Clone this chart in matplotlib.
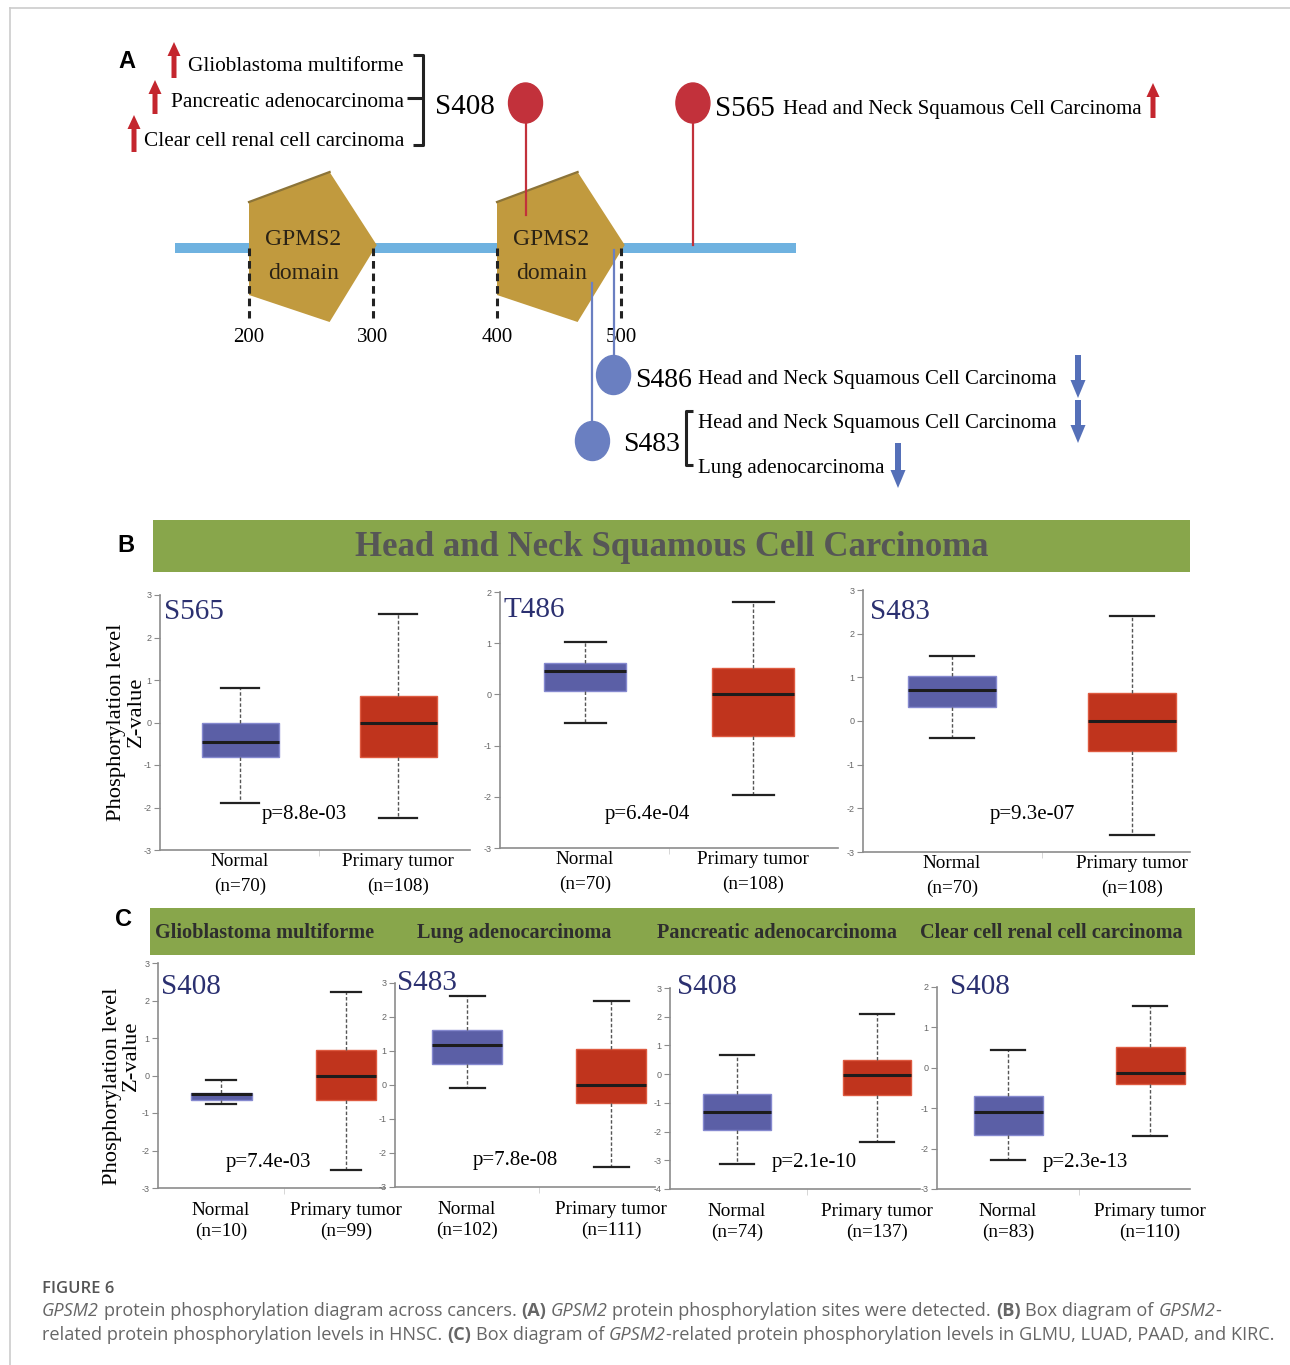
import matplotlib
matplotlib.use("Agg")
import matplotlib.pyplot as plt
from matplotlib.patches import Polygon, Ellipse, Rectangle, FancyArrow

plt.rcParams["axes.unicode_minus"] = False

W, H = 1290, 1365
SERIF = "Liberation Serif"
SANS = "Liberation Sans"
CAP_FONT = "Open Sans"

BLUE, BLUE_EDGE = "#5b5fa6", "#8589cf"
RED, RED_EDGE = "#c0341d", "#de5a40"
GREEN = "#88a64b"
NAVY = "#2b3070"
LOLLI_RED, LOLLI_BLUE = "#c2313b", "#6a7fc1"
ARROW_RED, ARROW_BLUE = "#c4262e", "#5570b8"

# ---------------- panel A data ----------------
protein_span = (140, 641)
domain_ranges = [(200, 300), (400, 500)]
domain_label = ["GPMS2", "domain"]
axis_ticks = [200, 300, 400, 500]
up_sites = ["S408", "S565"]
up_site_pos = [423, 558]
down_sites = ["S486", "S483"]
down_site_pos = [494, 477]
s408_cancers = ["Glioblastoma multiforme", "Pancreatic adenocarcinoma", "Clear cell renal cell carcinoma"]
s565_cancers = ["Head and Neck Squamous Cell Carcinoma"]
s486_cancers = ["Head and Neck Squamous Cell Carcinoma"]
s483_cancers = ["Head and Neck Squamous Cell Carcinoma", "Lung adenocarcinoma"]

# ---------------- panel B data ----------------
b_title = "Head and Neck Squamous Cell Carcinoma"
b_sites = ["S565", "T486", "S483"]
b_pvals = ["p=8.8e-03", "p=6.4e-04", "p=9.3e-07"]
b_n_normal = [70, 70, 70]
b_n_tumor = [108, 108, 108]
# whislo, q1, median, q3, whishi
b_normal = [(-1.90, -0.82, -0.45, 0.00, 0.82),
            (-0.55, 0.07, 0.46, 0.61, 1.03),
            (-0.40, 0.31, 0.70, 1.02, 1.50)]
b_tumor = [(-2.25, -0.82, 0.00, 0.62, 2.55),
           (-1.97, -0.81, 0.00, 0.52, 1.80),
           (-2.61, -0.68, 0.00, 0.63, 2.41)]
b_ylims = [(-3, 3), (-3, 2), (-3, 3)]

# ---------------- panel C data ----------------
c_cancers = ["Glioblastoma multiforme", "Lung adenocarcinoma",
             "Pancreatic adenocarcinoma", "Clear cell renal cell carcinoma"]
c_sites = ["S408", "S483", "S408", "S408"]
c_pvals = ["p=7.4e-03", "p=7.8e-08", "p=2.1e-10", "p=2.3e-13"]
c_n_normal = [10, 102, 74, 83]
c_n_tumor = [99, 111, 137, 110]
c_normal = [(-0.77, -0.64, -0.49, -0.46, -0.13),
            (-0.08, 0.61, 1.19, 1.61, 2.61),
            (-3.14, -1.94, -1.33, -0.69, 0.65),
            (-2.29, -1.67, -1.09, -0.71, 0.45)]
c_tumor = [(-2.53, -0.64, 0.00, 0.69, 2.22),
           (-2.40, -0.52, 0.00, 1.07, 2.48),
           (-2.38, -0.72, -0.03, 0.48, 2.10),
           (-1.69, -0.40, -0.13, 0.52, 1.54)]
c_ylims = [(-3, 3), (-3, 3), (-4, 3), (-3, 2)]

caption_title = "FIGURE 6"
caption_lines = [
    [("GPSM2", "i"), (" protein phosphorylation diagram across cancers. ", "n"), ("(A)", "b"), (" ", "n"),
     ("GPSM2", "i"), (" protein phosphorylation sites were detected. ", "n"), ("(B)", "b"),
     (" Box diagram of ", "n"), ("GPSM2", "i"), ("-", "n")],
    [("related protein phosphorylation levels in HNSC. ", "n"), ("(C)", "b"), (" Box diagram of ", "n"),
     ("GPSM2", "i"), ("-related protein phosphorylation levels in GLMU, LUAD, PAAD, and KIRC.", "n")],
]

fig = plt.figure(figsize=(W / 100, H / 100), dpi=100)
bg = fig.add_axes([0, 0, 1, 1])
bg.set_xlim(0, W)
bg.set_ylim(H, 0)
bg.axis("off")

# frame
bg.plot([10, W], [8, 8], color="#cccccc", lw=1.2)
bg.plot([10, 10], [8, H], color="#cccccc", lw=1.2)

# panel letters
for letter, (lx, ly) in zip("ABC", [(127, 62), (126, 545), (123, 920)]):
    bg.text(lx, ly, letter, family=SANS, weight="bold", fontsize=17, ha="center", va="center")

# ---------------- panel A ----------------
PX0, PX_PER_AA = 249, 1.24
axA = fig.add_axes([0, 1 - 520 / H, 1, 520 / H])
axA.set_xlim(200 - PX0 / PX_PER_AA, 200 + (W - PX0) / PX_PER_AA)
axA.set_ylim(520, 0)
axA.axis("off")
axA.patch.set_alpha(0)

axA.plot(protein_span, [248, 248], color="#6fb2e0", lw=7.2, solid_capstyle="butt", zorder=1)
for s, e in domain_ranges:
    span = e - s
    apex = s + 0.65 * span
    pent = Polygon([(s, 202), (apex, 172), (e + 3, 245), (apex, 322), (s, 295)],
                   closed=True, facecolor="#c19a3e", edgecolor="none", zorder=2)
    axA.add_patch(pent)
    axA.plot([s, apex], [202, 172], color="#8c7438", lw=1.6, zorder=2.5)
    cx = s + 44
    axA.text(cx, 245, domain_label[0], family=SERIF, fontsize=17, ha="center", va="baseline",
             color="#2a2215", zorder=3)
    axA.text(cx, 279, domain_label[1], family=SERIF, fontsize=17, ha="center", va="baseline",
             color="#2a2215", zorder=3)
for t in axis_ticks:
    axA.plot([t, t], [248, 318], color="#222222", lw=2.2, linestyle=(0, (2.5, 1.6)), zorder=3)
    axA.text(t, 342, str(t), family=SERIF, fontsize=15, ha="center", va="baseline", zorder=3)

# phosphorylation sites (up = red, down = blue)
up_stem = [(103, 215), (103, 245)]
for pos, (y0, y1) in zip(up_site_pos, up_stem):
    axA.plot([pos, pos], [y0, y1], color=LOLLI_RED, lw=1.6, zorder=4)
    axA.add_patch(Ellipse((pos, 103), 34 / PX_PER_AA, 40, color=LOLLI_RED, zorder=5))
down_stem = [(250, 360), (283, 425)]
down_head = [375, 441]
for pos, (y0, y1), hy in zip(down_site_pos, down_stem, down_head):
    axA.plot([pos, pos], [y0, y1], color=LOLLI_BLUE, lw=1.6, zorder=4)
    axA.add_patch(Ellipse((pos, hy), 34 / PX_PER_AA, 39, color=LOLLI_BLUE, zorder=5))

# site labels
bg.text(495, 114, up_sites[0], family=SERIF, fontsize=21, ha="right", va="baseline")
bg.text(715, 116, up_sites[1], family=SERIF, fontsize=21, ha="left", va="baseline")
bg.text(783, 114, s565_cancers[0], family=SERIF, fontsize=15, ha="left", va="baseline")
bg.text(635, 387, down_sites[0], family=SERIF, fontsize=20, ha="left", va="baseline")
bg.text(698, 384, s486_cancers[0], family=SERIF, fontsize=15, ha="left", va="baseline")
bg.text(623, 451, down_sites[1], family=SERIF, fontsize=20, ha="left", va="baseline")
bg.text(698, 428, s483_cancers[0], family=SERIF, fontsize=15, ha="left", va="baseline")
bg.text(698, 473, s483_cancers[1], family=SERIF, fontsize=15, ha="left", va="baseline")

for name, base in zip(s408_cancers, [71, 107, 146]):
    bg.text(404, base, name, family=SERIF, fontsize=15.3, ha="right", va="baseline")

# brackets
bk = dict(color="#222222", lw=2.2, solid_capstyle="butt")
bg.plot([413, 423, 423, 413], [55, 55, 145, 145], **bk)
bg.plot([407, 423], [98, 98], **bk)
bg.plot([693, 686, 686, 693], [411, 411, 465, 465], **bk)

# regulation arrows
for ax_, ytail, yhead in [(174, 78, 42), (155, 114, 80), (134, 152, 115), (1153, 118, 83)]:
    bg.add_patch(FancyArrow(ax_, ytail, 0, yhead - ytail, width=5, head_width=13, head_length=14,
                            length_includes_head=True, color=ARROW_RED, lw=0))
for ax_, ytail, yhead in [(1078, 355, 398), (1078, 400, 443), (898, 443, 488)]:
    bg.add_patch(FancyArrow(ax_, ytail, 0, yhead - ytail, width=6, head_width=15, head_length=18,
                            length_includes_head=True, color=ARROW_BLUE, lw=0))

# ---------------- headers ----------------
bg.add_patch(Rectangle((153, 520), 1037, 52, color=GREEN, lw=0))
bg.text(672, 548, b_title, family=SERIF, weight="bold", fontsize=25, color="#565656",
        ha="center", va="center")
bg.add_patch(Rectangle((150, 908), 1045, 47, color=GREEN, lw=0))
for name, hx in zip(c_cancers, [155, 417, 657, 920]):
    bg.text(hx, 933, name, family=SERIF, weight="bold", fontsize=14.6, color="#2e2e2e",
            ha="left", va="center")

# y labels
for lx, ly, zx, zy in [(116, 722, 136, 712), (112, 1086, 131, 1056)]:
    bg.text(lx, ly, "Phosphorylation level", family=SERIF, fontsize=16.2, rotation=90,
            ha="center", va="center")
    bg.text(zx, zy, "Z-value", family=SERIF, fontsize=16.2, rotation=90,
            ha="center", va="center")


def box_panel(layout, ylim, normal, tumor, n0, n1, label_pad, linespacing):
    left, right, top, bottom, c0, c1, bw = layout
    ax = fig.add_axes([left / W, 1 - bottom / H, (right - left) / W, (bottom - top) / H])
    ax.patch.set_alpha(0)
    unit = c1 - c0
    ax.set_xlim(-(c0 - left) / unit, 1 + (right - c1) / unit)
    ax.set_ylim(*ylim)
    stats = [dict(whislo=s[0], q1=s[1], med=s[2], q3=s[3], whishi=s[4], fliers=[])
             for s in (normal, tumor)]
    parts = ax.bxp(stats, positions=[0, 1], widths=bw / unit, capwidths=0.5 * bw / unit,
                   patch_artist=True, showfliers=False, manage_ticks=False,
                   medianprops=dict(color="#1c1c1c", lw=2.2),
                   whiskerprops=dict(color="#555555", lw=1.0, linestyle=(0, (2.5, 1.5))),
                   capprops=dict(color="#222222", lw=1.6),
                   boxprops=dict(lw=1.0))
    for patch, fc, ec in zip(parts["boxes"], [BLUE, RED], [BLUE_EDGE, RED_EDGE]):
        patch.set_facecolor(fc)
        patch.set_edgecolor(ec)
    for sp in ("top", "right"):
        ax.spines[sp].set_visible(False)
    for sp in ("left", "bottom"):
        ax.spines[sp].set_color("#8c8c8c")
        ax.spines[sp].set_linewidth(1.2)
    ax.set_yticks(range(ylim[0], ylim[1] + 1))
    ax.tick_params(axis="y", labelsize=6.5, labelcolor="#666666", color="#8c8c8c",
                   length=4, width=0.8, pad=2)
    for lab in ax.get_yticklabels():
        lab.set_family(SANS)
    ax.set_xticks([0, 1], [f"Normal\n(n={n0})", f"Primary tumor\n(n={n1})"],
                  family=SERIF, fontsize=13.8, linespacing=linespacing)
    ax.set_xticks([0.5], minor=True)
    ax.tick_params(axis="x", which="major", length=0, pad=label_pad)
    ax.tick_params(axis="x", which="minor", length=4, color="#d0d0d0")
    return ax


b_layout = [(160, 470, 595, 850, 240, 398, 77),
            (500, 838, 592, 848, 585, 753, 82),
            (863, 1190, 590, 852, 952, 1132, 88)]
b_title_xy = [(164, 612), (504, 610), (870, 612)]
b_p_xy = [(262, 815), (605, 815), (990, 815)]
for i in range(3):
    box_panel(b_layout[i], b_ylims[i], b_normal[i], b_tumor[i], b_n_normal[i], b_n_tumor[i], 2.5, 1.55)
    bg.text(*b_title_xy[i], b_sites[i], family=SERIF, fontsize=21, color=NAVY, ha="left", va="center")
    bg.text(*b_p_xy[i], b_pvals[i], family=SERIF, fontsize=15, ha="left", va="center")

c_layout = [(158, 385, 963, 1188, 221, 346, 61),
            (395, 655, 983, 1187, 467, 611, 70),
            (670, 920, 988, 1189, 737, 877, 68),
            (937, 1190, 987, 1189, 1008, 1150, 69)]
c_title_xy = [(161, 987), (397, 983), (677, 987), (950, 987)]
c_p_xy = [(226, 1162), (473, 1161), (772, 1162), (1043, 1162)]
for i in range(4):
    box_panel(c_layout[i], c_ylims[i], c_normal[i], c_tumor[i], c_n_normal[i], c_n_tumor[i], 10, 1.3)
    bg.text(*c_title_xy[i], c_sites[i], family=SERIF, fontsize=21, color=NAVY, ha="left", va="center")
    bg.text(*c_p_xy[i], c_pvals[i], family=SERIF, fontsize=15, ha="left", va="center")

# ---------------- caption ----------------
renderer = fig.canvas.get_renderer()
CAP_COLOR = "#666666"


def cap_kw(style, size):
    kw = dict(family=CAP_FONT, color=CAP_COLOR, fontsize=size)
    if style == "i":
        kw["style"] = "italic"
    if style == "b":
        kw["weight"] = "bold"
    return kw


def seg_width(text, kw):
    t1 = bg.text(0, 0, "|" + text + "|", **kw)
    t2 = bg.text(0, 0, "||", **kw)
    w = t1.get_window_extent(renderer).width - t2.get_window_extent(renderer).width
    t1.remove()
    t2.remove()
    return w


base = 12.0
total = sum(seg_width(t, cap_kw(s, base)) for t, s in caption_lines[0])
size = base * 1176 / total

bg.text(42, 1293, caption_title, family=CAP_FONT, weight="semibold", color="#555555",
        fontsize=12, ha="left", va="baseline")
for line, yb in zip(caption_lines, [1316, 1340]):
    x = 42
    for text, style in line:
        kw = cap_kw(style, size)
        lead = len(text) - len(text.lstrip())
        xd = x + (seg_width(" " * lead, kw) if lead else 0)
        if text.strip():
            bg.text(xd, yb, text.strip(), ha="left", va="baseline", **kw)
        x += seg_width(text, kw)

fig.savefig("out.png", dpi=100)
